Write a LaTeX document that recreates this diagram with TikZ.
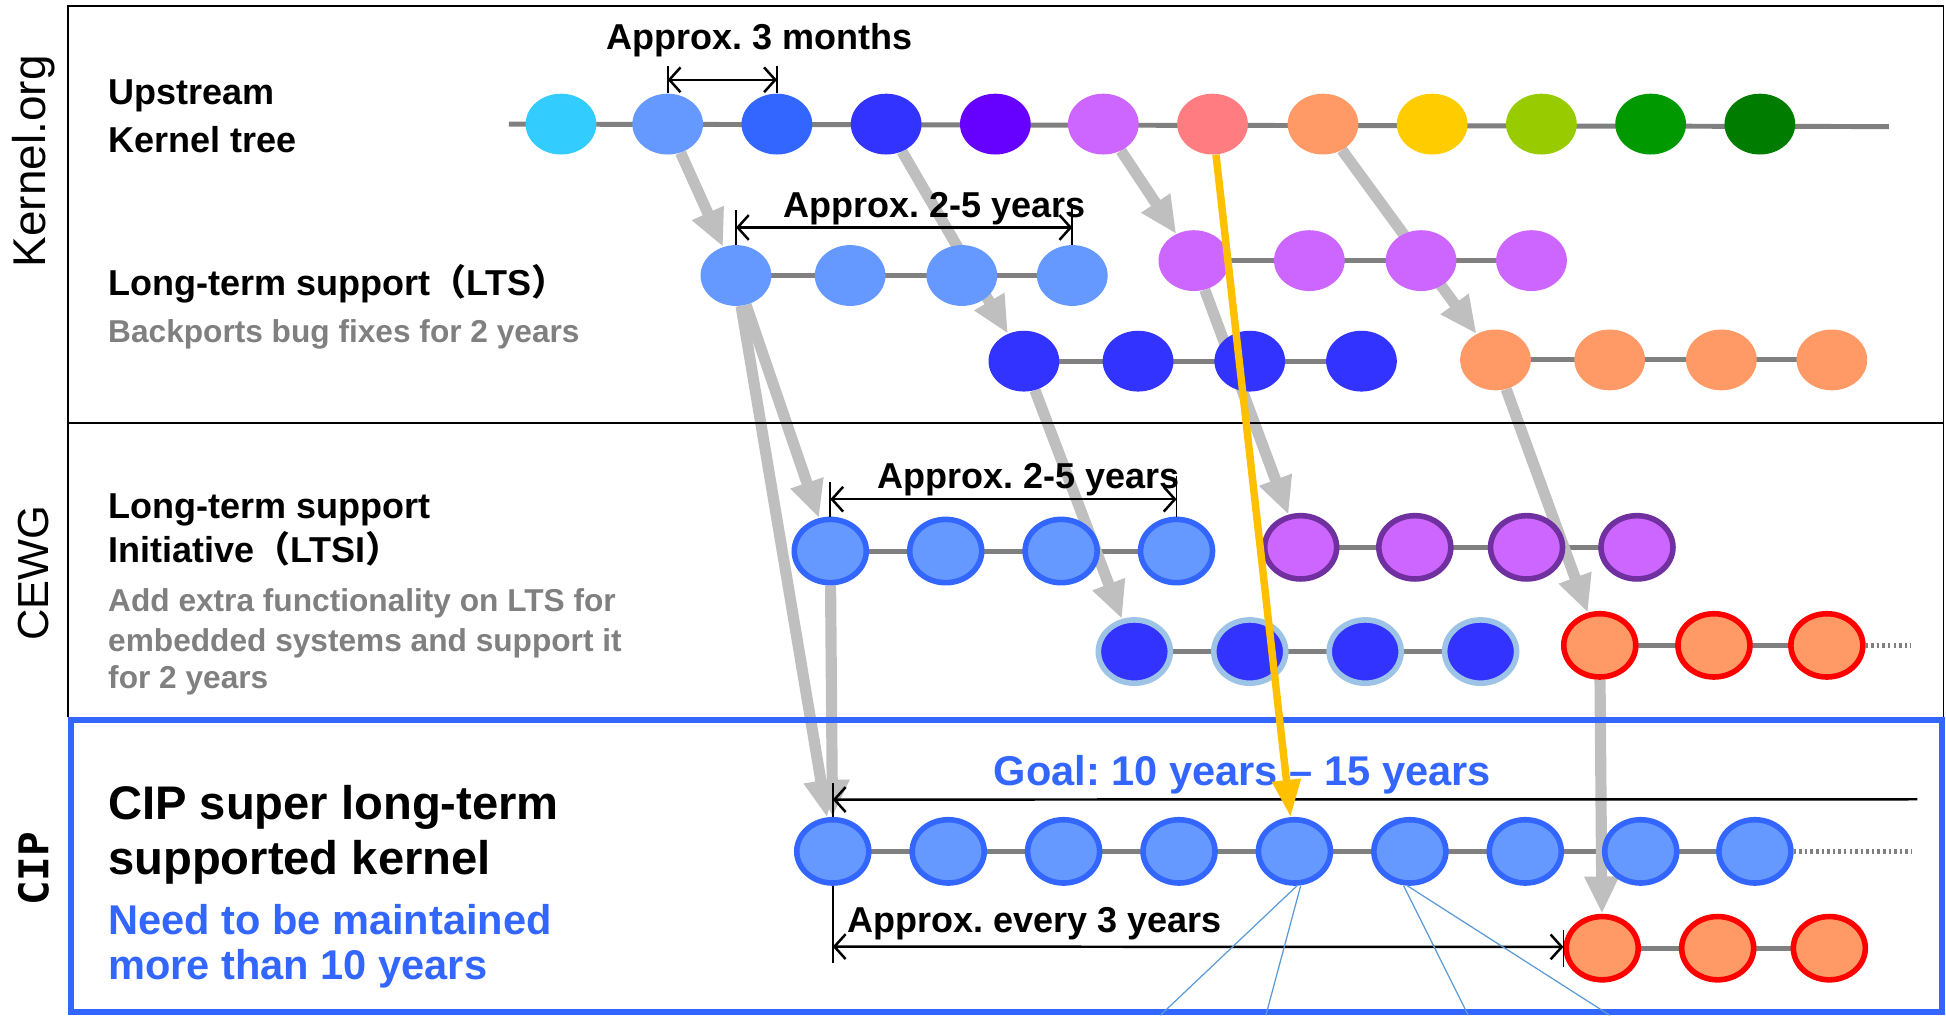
\documentclass[tikz,border=0pt]{standalone}
\usepackage{fontspec}
\setmainfont{Liberation Sans}
\newfontfamily\cjk{Noto Sans CJK SC}
\newfontfamily\cipfont{DejaVu Sans Mono}
\usetikzlibrary{shapes.geometric,arrows.meta,calc}
\pgfdeclarelayer{back}
\pgfsetlayers{back,main}
\definecolor{cA}{HTML}{33CCFF}
\definecolor{cB}{HTML}{6699FF}
\definecolor{cC}{HTML}{3366FF}
\definecolor{cD}{HTML}{3333FF}
\definecolor{cE}{HTML}{6600FF}
\definecolor{cF}{HTML}{CC66FF}
\definecolor{cG}{HTML}{FF7C80}
\definecolor{cH}{HTML}{FF9966}
\definecolor{cI}{HTML}{FFCC00}
\definecolor{cJ}{HTML}{99CC00}
\definecolor{cK}{HTML}{009900}
\definecolor{cL}{HTML}{007C00}
\definecolor{linegray}{HTML}{808080}
\definecolor{argray}{HTML}{BFBFBF}
\definecolor{yel}{HTML}{FFC000}
\definecolor{bluetxt}{HTML}{3366FF}
\definecolor{purpb}{HTML}{7030A0}
\definecolor{paleb}{HTML}{9DC3E6}
\definecolor{tb}{HTML}{5B9BD5}
\definecolor{txtgray}{HTML}{808080}
\tikzset{
  kb/.style={ellipse, minimum width=57pt, minimum height=49pt, inner sep=0pt, draw=none},
  kbb/.style={ellipse, minimum width=58pt, minimum height=51pt, inner sep=0pt, line width=4.5pt},
  rowline/.style={draw=linegray, line width=4pt},
  dotline/.style={draw=linegray, line width=4pt, dash pattern=on 2pt off 2.5pt},
  garrow/.style={draw=argray, line width=9pt, -{Triangle[length=30pt,width=26pt]}},
  yarrow/.style={draw=yel, line width=6pt, -{Triangle[length=30pt,width=22pt]}},
  dim/.style={draw=black, line width=1.3pt},
  dimarr/.style={draw=black, line width=2pt, {Straight Barb[length=9pt,width=20pt]}-{Straight Barb[length=9pt,width=20pt]}},
  dimleft/.style={draw=black, line width=2pt, {Straight Barb[length=9pt,width=20pt]}-},
  thinblue/.style={draw=tb, line width=1pt},
  lbl/.style={font=\bfseries\fontsize{29}{34}\selectfont, inner sep=0pt, anchor=base west},
  gtxt/.style={font=\bfseries\fontsize{25.5}{30}\selectfont, text=txtgray, inner sep=0pt, anchor=base west},
  dimtxt/.style={font=\bfseries\fontsize{29}{34}\selectfont, inner sep=0pt, anchor=base},
  side/.style={font=\fontsize{37}{42}\selectfont, inner sep=0pt, rotate=90},
}
\begin{document}
\frenchspacing
\begin{tikzpicture}[x=1pt,y=-1pt]
\useasboundingbox (0,0) rectangle (1568,818);
% frame
\draw[line width=1.5pt] (55,578) -- (55,5) -- (1566,5) -- (1566,578);
\draw[line width=1.5pt] (55,341) -- (1566,341);
\draw[draw=bluetxt, line width=5pt] (57.5,580) rectangle (1565,815.5);
% side labels
\node[side] (korg) at (27,130) {Kernel.org};
\node[side, font=\fontsize{35}{40}\selectfont] (cewg) at (27,462) {CEWG};
\node[side, font=\cipfont\bfseries\fontsize{33}{38}\selectfont] (cip) at (27,700) {CIP};
% upstream row
\foreach \x/\c [count=\i] in {452/cA,538/cB,626/cC,714/cD,802/cE,889/cF,977/cG,1066/cH,1154/cI,1242/cJ,1330/cK,1418/cL}
  \node[kb, fill=\c] (u\i) at (\x,100) {};
% LTS rows
\foreach \x [count=\i] in {593,685,775,864} \node[kb, fill=cB] (l\i) at (\x,222) {};
\foreach \x [count=\i] in {962,1055,1145,1234} \node[kb, fill=cF] (p\i) at (\x,210) {};
\foreach \x [count=\i] in {825,917,1007,1097} \node[kb, fill=cD] (b\i) at (\x,291) {};
\foreach \x [count=\i] in {1205,1297,1387,1476} \node[kb, fill=cH] (o\i) at (\x,290) {};
% CEWG rows
\foreach \x [count=\i] in {669,762,855,948} \node[kbb, fill=cB, draw=cC] (t\i) at (\x,444) {};
\foreach \x [count=\i] in {1048,1140,1230,1319} \node[kbb, fill=cF, draw=purpb] (q\i) at (\x,441) {};
\foreach \x [count=\i] in {914,1007,1100,1193} \node[kbb, fill=cD, draw=paleb] (d\i) at (\x,525) {};
\foreach \x [count=\i] in {1289,1381,1472} \node[kbb, fill=cH, draw=red] (r\i) at (\x,520) {};
% CIP rows
\foreach \x [count=\i] in {671,764,857,950,1043,1136,1229,1322,1414} \node[kbb, fill=cB, draw=cC] (c\i) at (\x,686) {};
\foreach \x [count=\i] in {1291,1384,1474} \node[kbb, fill=cH, draw=red] (s\i) at (\x,764) {};
\coordinate (upstart) at (410,100);
\coordinate (upend) at (1522,102);
\coordinate (rdot) at (1540,520);
\coordinate (cdot) at (1540,686);
\begin{pgfonlayer}{back}
\draw[rowline] (upstart) -- (upend);
\draw[rowline] (l1.center) -- (l4.center);
\draw[rowline] (p1.center) -- (p4.center);
\draw[rowline] (b1.center) -- (b4.center);
\draw[rowline] (o1.center) -- (o4.center);
\draw[rowline] (t1.center) -- (t4.center);
\draw[rowline] (q1.center) -- (q4.center);
\draw[rowline] (d1.center) -- (d4.center);
\draw[rowline] (r1.center) -- (r3.center);
\draw[dotline] (r3.east) -- (rdot);
\draw[rowline] (c1.center) -- (c9.center);
\draw[dotline] (c9.east) -- (cdot);
\draw[rowline] (s1.center) -- (s3.center);
% gray arrows
\draw[garrow] (u2) -- (l1);
\draw[garrow] (u4) -- (b1);
\draw[garrow] (u6) -- (p1);
\draw[garrow] (u8) -- (o1);
\draw[garrow] (l1) -- (t1);
\draw[garrow] (l1) -- (c1);
\draw[garrow] (t1) -- (c1);
\draw[garrow] (b1) -- (d1);
\draw[garrow] (p1) -- (q1);
\draw[garrow] (o1) -- (r1);
\draw[garrow] (r1) -- (s1);
\end{pgfonlayer}
% texts
\node[lbl] (t-up1) at (87,84) {Upstream};
\node[lbl] (t-up2) at (87,123) {Kernel tree};
\node[lbl] (t-lts) at (87,238) {Long-term support{\cjk （}LTS{\cjk ）}};
\node[gtxt] (t-bp) at (87,276) {Backports bug fixes for 2 years};
\node[lbl] (t-ltsi1) at (87,418) {Long-term support};
\node[lbl] (t-ltsi2) at (87,453) {Initiative{\cjk （}LTSI{\cjk ）}};
\node[gtxt] (t-add1) at (87,493) {Add extra functionality on LTS for};
\node[gtxt] (t-add2) at (87,525) {embedded systems and support it};
\node[gtxt] (t-add3) at (87,555) {for 2 years};
\node[lbl, font=\bfseries\fontsize{38}{44}\selectfont] (t-cip1) at (87,660) {CIP super long-term};
\node[lbl, font=\bfseries\fontsize{38}{44}\selectfont] (t-cip2) at (87,705) {supported kernel};
\node[lbl, font=\bfseries\fontsize{33.5}{40}\selectfont, text=bluetxt] (t-need1) at (87,753) {Need to be maintained};
\node[lbl, font=\bfseries\fontsize{33.5}{40}\selectfont, text=bluetxt] (t-need2) at (87,789) {more than 10 years};
\node[dimtxt] (t-3m) at (612,40) {Approx. 3 months};
\node[dimtxt] (t-25a) at (753,175) {Approx. 2-5 years};
\node[dimtxt] (t-25b) at (829,394) {Approx. 2-5 years};
\node[dimtxt, font=\bfseries\fontsize{33.5}{38}\selectfont, text=bluetxt] (t-goal) at (1001,633) {Goal: 10 years – 15 years};
\node[lbl] (t-e3) at (683,751) {Approx. every 3 years};
% dimension lines
\draw[dim] (u2.north) -- ++(0,-22);
\draw[dim] (u3.north) -- ++(0,-22);
\draw[dimarr] ($(u2.north)+(0,-11)$) -- ($(u3.north)+(0,-11)$);
\draw[dim] (l1.north) -- ++(0,-28);
\draw[dim] (l4.north) -- ++(0,-33);
\draw[dimarr] ($(l1.north)+(0,-14)$) -- ($(l4.north)+(0,-14)$);
\draw[dim] (t1.north) -- ++(0,-28);
\draw[dim] (t4.north) -- ++(0,-33);
\draw[dimarr] ($(t1.north)+(0,-14)$) -- ($(t4.north)+(0,-14)$);
\coordinate (goalend) at (1545,644);
\draw[dim] (c1.north) -- ++(0,-27);
\draw[dimleft] ($(c1.north)+(0,-14)$) -- (goalend);
\draw[dim] (c1.south) -- ++(0,62);
\draw[dim] ($(s1.west)+(0,-15)$) -- ($(s1.west)+(0,15)$);
\draw[dimarr] ($(c1.south)+(0,49)$) -- ($(s1.west)+(0,-1)$);
% yellow arrow
\draw[yarrow] (u7) -- (c5);
% thin blue lines
\coordinate (z1) at (935,818);
\coordinate (z2) at (1020,818);
\coordinate (z3) at (1183,818);
\coordinate (z4) at (1297,818);
\draw[thinblue] ($(c5.south)+(2,0)$) -- (z1);
\draw[thinblue] ($(c5.south)+(5,0)$) -- (z2);
\draw[thinblue] ($(c6.south)+(-5,0)$) -- (z3);
\draw[thinblue] ($(c6.south)+(-2,0)$) -- (z4);
\end{tikzpicture}
\end{document}
